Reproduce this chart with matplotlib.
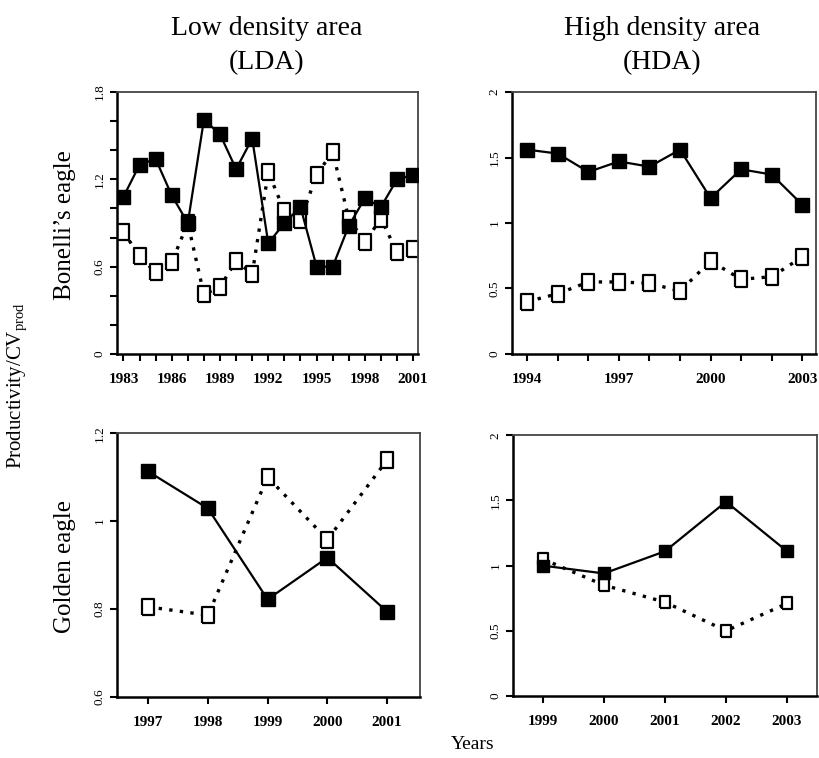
import numpy as np
import matplotlib
matplotlib.use("Agg")
import matplotlib.pyplot as plt

plt.rcParams['font.family'] = ['Liberation Serif', 'DejaVu Serif']
plt.rcParams['mathtext.fontset'] = 'custom'
plt.rcParams['mathtext.rm'] = 'Liberation Serif'

# Bonelli's eagle, low density area
lda_bon_years = list(range(1983, 2002))
lda_bon_prod = [1.08, 1.30, 1.34, 1.09, 0.90, 1.61, 1.51, 1.27, 1.48, 0.76, 0.90, 1.01,
                0.60, 0.60, 0.88, 1.07, 1.01, 1.20, 1.23]
lda_bon_cv = [0.84, 0.67, 0.56, 0.63, 0.90, 0.41, 0.46, 0.64, 0.55, 1.25, 0.98, 0.92,
              1.23, 1.39, 0.93, 0.77, 0.93, 0.70, 0.72]

# Bonelli's eagle, high density area
hda_bon_years = list(range(1994, 2004))
hda_bon_prod = [1.56, 1.53, 1.39, 1.47, 1.43, 1.56, 1.19, 1.41, 1.37, 1.14]
hda_bon_cv = [0.40, 0.46, 0.55, 0.55, 0.54, 0.48, 0.71, 0.57, 0.59, 0.74]

# Golden eagle, low density area
lda_gold_years = [1997, 1998, 1999, 2000, 2001]
lda_gold_prod = [1.113, 1.029, 0.822, 0.917, 0.794]
lda_gold_cv = [0.805, 0.786, 1.10, 0.958, 1.139]

# Golden eagle, high density area
hda_gold_years = [1999, 2000, 2001, 2002, 2003]
hda_gold_prod = [1.00, 0.94, 1.11, 1.49, 1.11]
hda_gold_cv = [1.05, 0.85, 0.72, 0.50, 0.71]

open_rect = [(-0.75, -1), (0.75, -1), (0.75, 1), (-0.75, 1), (-0.75, -1)]


def draw_panel(ax, years, prod, cv, xlim, ylim, yticks, ylabels, xticks, xlabels, ms=10):
    ax.plot(years, cv, linestyle=(0, (1, 2.2)), lw=2.4, color='black',
            marker=open_rect, markersize=ms + 1, markerfacecolor='white',
            markeredgecolor='black', markeredgewidth=1.6, zorder=2)
    ax.plot(years, prod, linestyle='-', lw=1.6, color='black',
            marker='s', markersize=ms, markerfacecolor='black',
            markeredgecolor='black', zorder=3)
    ax.set_xlim(xlim)
    ax.set_ylim(ylim)
    ax.set_yticks(yticks)
    ax.set_yticklabels(ylabels, rotation=90, va='center', fontsize=9.5)
    ax.set_xticks(xticks)
    ax.set_xticklabels(xlabels, fontsize=11, fontweight='bold')
    ax.tick_params(direction='out', length=5, width=1.5)
    ax.tick_params(axis='y', pad=3)
    ax.tick_params(axis='x', pad=9)
    for s in ['left', 'bottom']:
        ax.spines[s].set_linewidth(1.8)
        ax.spines[s].set_color('black')
    for s in ['top', 'right']:
        ax.spines[s].set_linewidth(1.3)
        ax.spines[s].set_color('#444444')


fig = plt.figure(figsize=(8.2, 7.58), dpi=100)

ax1 = fig.add_axes([0.1427, 0.533, 0.367, 0.3456])
ax2 = fig.add_axes([0.6244, 0.533, 0.3707, 0.3456])
ax3 = fig.add_axes([0.1427, 0.0805, 0.3695, 0.348])
ax4 = fig.add_axes([0.6256, 0.0818, 0.3707, 0.344])

yt1 = np.round(np.arange(0, 1.81, 0.2), 1)
draw_panel(ax1, lda_bon_years, lda_bon_prod, lda_bon_cv, (1982.6, 2001.3), (0, 1.8),
           yt1, ['0' if v == 0 else (f'{v:.1f}' if abs(v / 0.6 - round(v / 0.6)) < 1e-6 else '') for v in yt1],
           lda_bon_years, [str(y) if (y - 1983) % 3 == 0 else '' for y in lda_bon_years])

draw_panel(ax2, hda_bon_years, hda_bon_prod, hda_bon_cv, (1993.5, 2003.45), (0, 2),
           [0, 0.5, 1, 1.5, 2], ['0', '0.5', '1', '1.5', '2'],
           hda_bon_years, [str(y) if (y - 1994) % 3 == 0 else '' for y in hda_bon_years])

draw_panel(ax3, lda_gold_years, lda_gold_prod, lda_gold_cv, (1996.48, 2001.55), (0.6, 1.2),
           [0.6, 0.8, 1.0, 1.2], ['0.6', '0.8', '1', '1.2'],
           lda_gold_years, [str(y) for y in lda_gold_years])

draw_panel(ax4, hda_gold_years, hda_gold_prod, hda_gold_cv, (1998.51, 2003.49), (0, 2),
           [0, 0.5, 1, 1.5, 2], ['0', '0.5', '1', '1.5', '2'],
           hda_gold_years, [str(y) for y in hda_gold_years], ms=8)

fig.text(0.325, 0.962, 'Low density area', ha='center', va='center', fontsize=20)
fig.text(0.325, 0.917, '(LDA)', ha='center', va='center', fontsize=20)
fig.text(0.808, 0.962, 'High density area', ha='center', va='center', fontsize=20)
fig.text(0.808, 0.917, '(HDA)', ha='center', va='center', fontsize=20)

fig.text(0.079, 0.703, "Bonelli\u2019s eagle", rotation=90, ha='center', va='center', fontsize=18)
fig.text(0.079, 0.253, 'Golden eagle', rotation=90, ha='center', va='center', fontsize=18)
fig.text(0.022, 0.491, r'Productivity/CV$_{\mathrm{prod}}$', rotation=90, ha='center',
         va='center', fontsize=15)
fig.text(0.576, 0.018, 'Years', ha='center', va='center', fontsize=14)

fig.savefig('out.png', dpi=100)
